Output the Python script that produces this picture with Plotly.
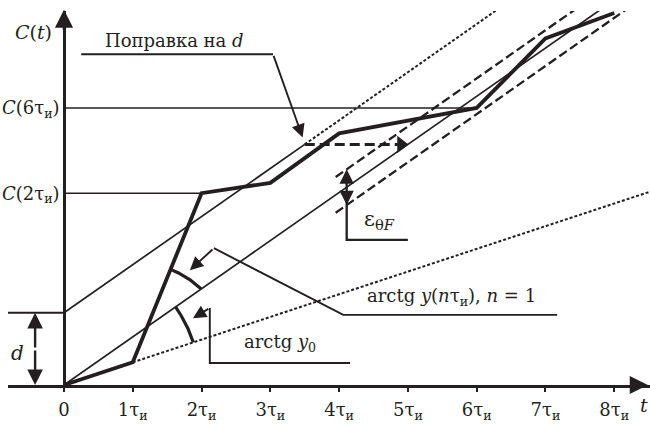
import numpy as np
import plotly.graph_objects as go

# ---------------- data (x in units of tau_i, y in same scale) ----------------
t_ticks = [0, 1, 2, 3, 4, 5, 6, 7, 8]
t_tick_labels = ["0"] + [f"{n}τ<sub>и</sub>" for n in range(1, 9)]
t_pts = [0, 1, 2, 3, 4, 6, 7, 8]
C_pts = [0.0, 0.33, 2.79, 2.94, 3.66, 4.03, 5.04, 5.41]
d_val = 1.05          # offset d
k_slope = 0.70        # slope of reference lines (arctg y(n tau), n=1)
y0_slope = 0.33       # initial slope (arctg y0)
eps_band = 0.26       # half-width of epsilon band
band_start = 3.95     # where dashed band begins
corr_y = 3.5          # level of the "correction for d" arrow
C_level_t = [2, 6]
C_levels = [2.79, 4.03]
C_level_labels = ["<i>C</i>(2τ<sub>и</sub>)", "<i>C</i>(6τ<sub>и</sub>)"]

X_MIN, X_MAX = -0.814, 8.52
Y_MIN, Y_MAX = 0.0, 5.44

INK = "#231f20"
FONT = "DejaVu Serif"
FS = 18

fig = go.Figure()


def line(x, y, width=1.5, dash="solid"):
    fig.add_trace(go.Scatter(x=x, y=y, mode="lines", hoverinfo="skip",
                             line=dict(color=INK, width=width, dash=dash),
                             showlegend=False))


def arrow(x, y, ax, ay, width=2, size=1.0, head=2):
    fig.add_annotation(x=x, y=y, ax=ax, ay=ay, xref="x", yref="y",
                       axref="x", ayref="y", text="", showarrow=True,
                       arrowhead=head, arrowsize=size, arrowwidth=width,
                       arrowcolor=INK, standoff=0)


def label(x, y, text, size=FS, xanchor="center"):
    fig.add_annotation(x=x, y=y, xref="x", yref="y", text=text, showarrow=False,
                       xanchor=xanchor, yanchor="middle",
                       font=dict(family=FONT, size=size, color=INK))


# reference lines
xs = np.array([0, X_MAX])
line(xs, k_slope * xs, 1.7)                                   # lower line from origin
x_a = (corr_y - d_val) / k_slope                              # where upper line turns dotted
x_b = corr_y / k_slope                                        # lower line at corr_y
line([0, x_a], [d_val, d_val + k_slope * x_a], 1.7)           # upper solid
line([x_a, X_MAX], [d_val + k_slope * x_a, d_val + k_slope * X_MAX], 2, "3px,2px")
xb = np.array([band_start, X_MAX])
line(xb, k_slope * xb + eps_band, 2.3, "9px,4px")
line(xb, k_slope * xb - eps_band, 2.3, "9px,4px")
xd = np.array([t_pts[1], X_MAX])
line(xd, y0_slope * xd, 2, "3px,2px")

# horizontal reference levels
for tt, cc in zip(C_level_t, C_levels):
    line([0, tt], [cc, cc], 1.5)
line([X_MIN, 0], [d_val, d_val], 2)

# thick C(t) curve
line(t_pts, C_pts, 3.8)

# correction arrow (dashed) with triangular head
line([x_a, x_b - 0.12], [corr_y, corr_y], 3, "10px,5px")
fig.add_trace(go.Scatter(x=[x_b - 0.1], y=[corr_y], mode="markers", hoverinfo="skip",
                         showlegend=False,
                         marker=dict(symbol="triangle-right", size=15, color=INK,
                                     line=dict(width=0))))

# arcs
r1 = 1.98
a1 = np.linspace(np.arctan(y0_slope), np.arctan(k_slope), 30)
line(r1 * np.cos(a1), r1 * np.sin(a1), 3.2)
cx, cy = t_pts[1], C_pts[1]
r2 = 1.46
a_hi = np.arctan2(C_pts[2] - C_pts[1], t_pts[2] - t_pts[1])
# intersection of circle with lower line y = k x
A = 1 + k_slope ** 2
B = -2 * cx - 2 * k_slope * cy
Cq = cx ** 2 + cy ** 2 - r2 ** 2
xi = (-B + np.sqrt(B ** 2 - 4 * A * Cq)) / (2 * A)
a_lo = np.arctan2(k_slope * xi - cy, xi - cx)
a2 = np.linspace(a_lo, a_hi, 30)
line(cx + r2 * np.cos(a2), cy + r2 * np.sin(a2), 3.2)

# leaders
line([7.17, 4.06, 2.18], [1.02, 1.02, 1.99], 1.9)
arrow(1.83, 1.67, 2.18, 1.99, width=1.9, size=1.4)
line([4.16, 2.12, 2.12], [0.32, 0.32, 1.12], 1.9)
arrow(1.875, 0.97, 2.12, 1.12, width=1.9, size=1.4)
line([0.25, 3.04], [4.81, 4.81], 1.9)
arrow(3.47, 3.60, 3.04, 4.81, width=1.9, size=1.4)

# epsilon marker
xe = 4.11
line([xe, xe, 5.0], [k_slope * xe + eps_band - 0.1, 2.11, 2.11], 2.3)
arrow(xe, k_slope * xe + eps_band, xe, k_slope * xe + eps_band - 0.2, width=2.2, size=1.3)
arrow(xe, k_slope * xe - eps_band, xe, k_slope * xe - eps_band + 0.2, width=2.2, size=1.3)

# d marker
arrow(-0.42, d_val, -0.42, d_val / 2, width=2.4, size=1.3)
arrow(-0.42, 0, -0.42, d_val / 2, width=2.4, size=1.3)

# axis arrowheads
arrow(0, Y_MAX + 0.02, 0, Y_MAX - 0.3, width=2.6, size=1.4)
arrow(8.49, 0, 8.3, 0, width=2.6, size=1.4)

# labels
label(-0.45, 5.13, "<i>C</i>(<i>t</i>)", 19)
label(1.61, 5.01, "Поправка на <i>d</i>", FS)
label(-0.67, 0.47, "<i>d</i>", 20)
label(3.14, 0.61, "arctg <i>y</i><sub>0</sub>", FS)
label(5.63, 1.28, "arctg <i>y</i>(<i>n</i>τ<sub>и</sub>), <i>n</i> = 1", FS)
label(4.59, 2.40, "ε<sub>θ<i>F</i></sub>", 21)
# axis name "t" (below the axis, outside the y range -> paper reference)
fig.add_annotation(x=8.35, y=-0.29 / (Y_MAX - Y_MIN), xref="x", yref="paper",
                   text="<i>t</i>", showarrow=False, xanchor="left", yanchor="middle",
                   font=dict(family=FONT, size=19, color=INK))

fig.update_layout(
    width=650, height=425,
    margin=dict(l=8, r=0, t=11, b=40),
    paper_bgcolor="white", plot_bgcolor="white",
    font=dict(family=FONT, size=FS, color=INK),
    xaxis=dict(range=[X_MIN, X_MAX], showgrid=False, zeroline=False,
               showline=True, linecolor=INK, linewidth=2.5,
               tickmode="array", tickvals=t_ticks, ticktext=t_tick_labels,
               ticks="outside", ticklen=4, tickwidth=2, tickcolor=INK,
               ticklabelstandoff=3,
               tickfont=dict(family=FONT, size=FS, color=INK)),
    yaxis=dict(range=[Y_MIN, Y_MAX], showgrid=False, zeroline=False,
               anchor="free", position=(0 - X_MIN) / (X_MAX - X_MIN),
               showline=True, linecolor=INK, linewidth=2.5,
               tickmode="array", tickvals=C_levels, ticktext=C_level_labels,
               ticks="", tickfont=dict(family=FONT, size=FS, color=INK)),
)

fig.write_html("out.html", config={"displayModeBar": False},
               post_script="document.body.style.margin='0';document.body.style.overflow='hidden';")
